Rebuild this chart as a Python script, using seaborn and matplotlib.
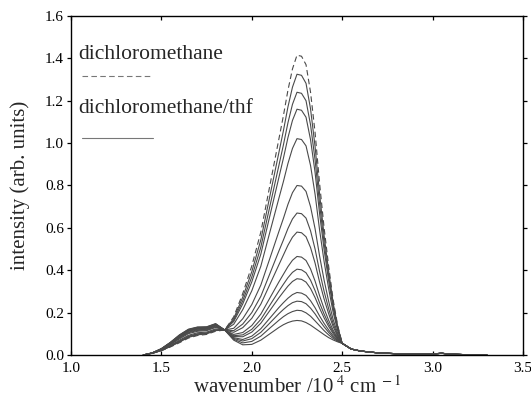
import matplotlib
matplotlib.use("Agg")
import matplotlib.pyplot as plt
from matplotlib.lines import Line2D
import seaborn as sns
import pandas as pd

# wavenumber grid (10^4 cm^-1) for the band region, and the common tail
x_main = [1.40, 1.45, 1.50, 1.55, 1.60, 1.65, 1.70, 1.75, 1.80, 1.85, 1.90, 1.95,
          2.00, 2.05, 2.10, 2.15, 2.175, 2.20, 2.225, 2.25, 2.275, 2.30, 2.325,
          2.35, 2.375, 2.40, 2.425, 2.45, 2.475, 2.50]
x_tail = [2.55, 2.60, 2.65, 2.70, 2.80, 2.90, 3.00, 3.05, 3.10, 3.20, 3.30]
y_tail = [0.028, 0.019, 0.014, 0.010, 0.006, 0.004, 0.005, 0.008, 0.004, 0.001, 0.000]

# dichloromethane (dashed)
dcm = [0.000, 0.008, 0.020, 0.038, 0.058, 0.080, 0.092, 0.097, 0.112, 0.118, 0.180, 0.290,
       0.420, 0.580, 0.800, 1.020, 1.130, 1.250, 1.350, 1.415, 1.410, 1.370, 1.240,
       1.050, 0.810, 0.600, 0.420, 0.260, 0.140, 0.055]

# dichloromethane/thf series (solid)
thf_01 = [0.000, 0.008, 0.021, 0.040, 0.061, 0.083, 0.095, 0.100, 0.115, 0.118, 0.172, 0.273, 0.393, 0.543, 0.750, 0.956, 1.059, 1.171, 1.264, 1.325, 1.320, 1.282, 1.161, 0.984, 0.760, 0.564, 0.396, 0.246, 0.134, 0.055]
thf_02 = [0.000, 0.008, 0.021, 0.041, 0.063, 0.086, 0.098, 0.102, 0.117, 0.118, 0.165, 0.256, 0.368, 0.509, 0.702, 0.895, 0.992, 1.096, 1.183, 1.240, 1.235, 1.200, 1.086, 0.921, 0.712, 0.529, 0.373, 0.234, 0.129, 0.055]
thf_03 = [0.000, 0.008, 0.022, 0.043, 0.066, 0.089, 0.100, 0.104, 0.119, 0.118, 0.158, 0.241, 0.345, 0.476, 0.657, 0.838, 0.929, 1.026, 1.107, 1.160, 1.155, 1.122, 1.016, 0.862, 0.667, 0.497, 0.351, 0.221, 0.124, 0.055]
thf_04 = [0.000, 0.009, 0.023, 0.045, 0.070, 0.093, 0.105, 0.108, 0.123, 0.118, 0.145, 0.214, 0.303, 0.419, 0.580, 0.740, 0.819, 0.904, 0.975, 1.021, 1.017, 0.987, 0.894, 0.759, 0.590, 0.441, 0.314, 0.201, 0.115, 0.055]
thf_05 = [0.000, 0.009, 0.025, 0.049, 0.076, 0.101, 0.112, 0.115, 0.130, 0.118, 0.126, 0.171, 0.238, 0.330, 0.456, 0.583, 0.645, 0.711, 0.766, 0.800, 0.797, 0.772, 0.700, 0.596, 0.467, 0.353, 0.254, 0.167, 0.102, 0.055]
thf_06 = [0.000, 0.009, 0.026, 0.051, 0.080, 0.105, 0.116, 0.118, 0.133, 0.118, 0.115, 0.146, 0.200, 0.277, 0.384, 0.491, 0.543, 0.597, 0.642, 0.670, 0.667, 0.646, 0.586, 0.500, 0.394, 0.300, 0.219, 0.148, 0.094, 0.055]
thf_07 = [0.000, 0.009, 0.027, 0.053, 0.083, 0.108, 0.119, 0.121, 0.136, 0.118, 0.107, 0.129, 0.173, 0.240, 0.333, 0.426, 0.472, 0.518, 0.556, 0.580, 0.577, 0.558, 0.507, 0.434, 0.344, 0.264, 0.195, 0.134, 0.088, 0.055]
thf_08 = [0.000, 0.010, 0.028, 0.055, 0.086, 0.112, 0.122, 0.124, 0.139, 0.118, 0.097, 0.106, 0.139, 0.193, 0.269, 0.345, 0.381, 0.417, 0.447, 0.465, 0.462, 0.446, 0.406, 0.349, 0.280, 0.218, 0.164, 0.117, 0.081, 0.055]
thf_09 = [0.000, 0.010, 0.028, 0.056, 0.088, 0.114, 0.124, 0.126, 0.141, 0.118, 0.091, 0.095, 0.121, 0.168, 0.235, 0.302, 0.334, 0.365, 0.390, 0.405, 0.402, 0.388, 0.353, 0.304, 0.246, 0.193, 0.147, 0.108, 0.077, 0.055]
thf_10 = [0.000, 0.010, 0.028, 0.057, 0.089, 0.115, 0.126, 0.127, 0.142, 0.118, 0.087, 0.086, 0.108, 0.150, 0.210, 0.270, 0.298, 0.325, 0.347, 0.360, 0.357, 0.344, 0.314, 0.271, 0.221, 0.175, 0.135, 0.101, 0.074, 0.055]
thf_11 = [0.000, 0.010, 0.029, 0.058, 0.091, 0.118, 0.128, 0.129, 0.144, 0.118, 0.082, 0.073, 0.089, 0.124, 0.174, 0.224, 0.247, 0.268, 0.285, 0.295, 0.292, 0.281, 0.256, 0.223, 0.184, 0.149, 0.118, 0.091, 0.070, 0.055]
thf_12 = [0.000, 0.010, 0.029, 0.058, 0.092, 0.119, 0.129, 0.130, 0.145, 0.118, 0.078, 0.066, 0.077, 0.107, 0.151, 0.195, 0.215, 0.233, 0.247, 0.254, 0.252, 0.242, 0.221, 0.194, 0.162, 0.133, 0.107, 0.085, 0.068, 0.055]
thf_13 = [0.000, 0.010, 0.030, 0.059, 0.094, 0.120, 0.131, 0.132, 0.147, 0.118, 0.074, 0.057, 0.064, 0.089, 0.127, 0.164, 0.181, 0.195, 0.205, 0.211, 0.209, 0.199, 0.183, 0.161, 0.138, 0.115, 0.095, 0.078, 0.065, 0.055]
thf_14 = [0.000, 0.010, 0.030, 0.060, 0.095, 0.122, 0.132, 0.133, 0.148, 0.118, 0.070, 0.048, 0.050, 0.070, 0.100, 0.130, 0.143, 0.153, 0.160, 0.163, 0.161, 0.153, 0.141, 0.126, 0.111, 0.096, 0.082, 0.071, 0.062, 0.055]

thf_series = [thf_01, thf_02, thf_03, thf_04, thf_05, thf_06, thf_07,
              thf_08, thf_09, thf_10, thf_11, thf_12, thf_13, thf_14]

x_ticks = [1.0, 1.5, 2.0, 2.5, 3.0, 3.5]
y_ticks = [0.0, 0.2, 0.4, 0.6, 0.8, 1.0, 1.2, 1.4, 1.6]
legend_labels = ["dichloromethane", "dichloromethane/thf"]

sns.set_style("ticks")
plt.rcParams["font.family"] = ["Liberation Serif", "DejaVu Serif"]
plt.rcParams["mathtext.fontset"] = "stix"

line_col = "#4a4a4a"

fig = plt.figure(figsize=(5.31, 4.15), dpi=100)
ax = fig.add_axes([0.1337, 0.1446, 0.8512, 0.8169])

xs = x_main + x_tail
for i, ys in enumerate(thf_series):
    sns.lineplot(x=xs, y=ys + y_tail, ax=ax, color=line_col, linewidth=0.8,
                 sort=False, estimator=None)
sns.lineplot(x=xs, y=dcm + y_tail, ax=ax, color=line_col, linewidth=0.8,
             sort=False, estimator=None, linestyle=(0, (5, 3)))

ax.set_xlim(1.0, 3.5)
ax.set_ylim(0.0, 1.6)
ax.set_xticks(x_ticks)
ax.set_yticks(y_ticks)
ax.set_xticklabels([f"{v:.1f}" for v in x_ticks])
ax.set_yticklabels([f"{v:.1f}" for v in y_ticks])

for s in ax.spines.values():
    s.set_visible(True)
    s.set_linewidth(1.0)
    s.set_color("black")

ax.tick_params(axis="x", which="both", direction="in", top=True, bottom=True,
               length=3, width=0.9, labelsize=11, pad=5, colors="black")
ax.tick_params(axis="y", which="both", direction="out", left=True,
               length=3, width=0.9, labelsize=11, pad=2, colors="black")
ax.tick_params(axis="y", which="both", right=True)

ax.set_xlabel(r"wavenumber /10$^{\ 4}$ cm$^{\ -1}$", fontsize=15, labelpad=1)
ax.set_ylabel("intensity (arb. units)", fontsize=15)
ax.yaxis.set_label_coords(-0.09, 0.5)

# legend: label text above the line sample
ax.text(0.0155, 0.873, legend_labels[0], transform=ax.transAxes,
        fontsize=15.5, va="baseline", ha="left")
ax.add_line(Line2D([0.0243, 0.181], [0.823, 0.823], transform=ax.transAxes,
                   color="#777777", linewidth=0.8, linestyle=(0, (5, 3))))
ax.text(0.0155, 0.714, legend_labels[1], transform=ax.transAxes,
        fontsize=15.5, va="baseline", ha="left")
ax.add_line(Line2D([0.0243, 0.181], [0.640, 0.640], transform=ax.transAxes,
                   color="#777777", linewidth=0.8))

fig.savefig("out.png", dpi=100)
